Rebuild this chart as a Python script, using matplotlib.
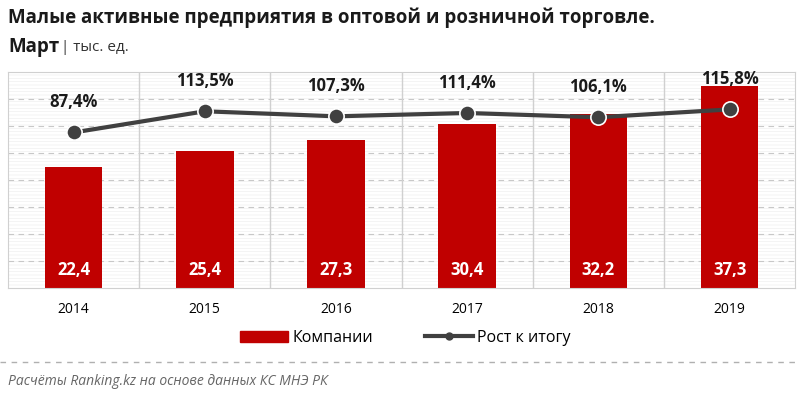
import matplotlib.pyplot as plt
from matplotlib.patches import Rectangle
from matplotlib.lines import Line2D

plt.rcParams['font.family'] = ['Open Sans', 'DejaVu Sans']
plt.rcParams['hatch.linewidth'] = 0.4
plt.rcParams['hatch.color'] = '#ececec'

years = ['2014', '2015', '2016', '2017', '2018', '2019']
companies = [22.4, 25.4, 27.3, 30.4, 32.2, 37.3]
growth = [87.4, 113.5, 107.3, 111.4, 106.1, 115.8]

red = '#c00000'
dark = '#404040'

fig = plt.figure(figsize=(8, 3.95), dpi=100)
ax = fig.add_axes([0.01, 0.271, 0.984, 0.547])
x = list(range(len(years)))

ax.set_xlim(-0.5, len(years) - 0.5)
ax.set_ylim(0, 40)

# striped background
ax.add_patch(Rectangle((-0.5, 0), len(years), 40, facecolor='white', edgecolor='#ececec',
                       hatch='-----', linewidth=0, zorder=0))

for yv in range(5, 40, 5):
    ax.axhline(yv, color='#c8c8c8', linestyle=(0, (5, 4)), linewidth=0.8, zorder=1)
for xv in range(1, len(years)):
    ax.axvline(xv - 0.5, color='#d0d0d0', linewidth=1, zorder=1)

ax.bar(x, companies, width=0.44, color=red, zorder=2)
for xi, v in zip(x, companies):
    ax.text(xi, 3.3, f'{v:.1f}'.replace('.', ','), ha='center', va='center', color='white',
            fontsize=12, fontweight='bold', zorder=5)

for s in ax.spines.values():
    s.set_color('#d0d0d0')
ax.set_yticks([])
ax.set_xticks(x)
ax.set_xticklabels(years, fontsize=10)
ax.tick_params(axis='x', length=0, pad=10)

ax2 = ax.twinx()
ax2.set_ylim(-104, 162)
ax2.plot(x, growth, color=dark, linewidth=3, marker='o', markersize=11,
         markerfacecolor=dark, markeredgecolor='white', markeredgewidth=1.2, zorder=4)
for xi, v in zip(x, growth):
    ax2.text(xi, v + 37, f'{v:.1f}%'.replace('.', ','), ha='center', va='center',
             fontsize=12, color='#1a1a1a', fontweight='bold')
ax2.set_yticks([])
for s in ax2.spines.values():
    s.set_visible(False)

fig.text(0.01, 0.955, 'Малые активные предприятия в оптовой и розничной торговле.',
         fontsize=13.5, fontweight='bold', va='center', color='#1a1a1a')
fig.text(0.01, 0.88, 'Март', fontsize=13.5, fontweight='bold', va='center', color='#1a1a1a')
fig.text(0.076, 0.88, '| тыс. ед.', fontsize=11, va='center', color='#333333')

handles = [Rectangle((0, 0), 1, 1, color=red),
           Line2D([0], [0], color=dark, linewidth=3, marker='o', markersize=5,
                  markerfacecolor=dark)]
fig.legend(handles, ['Компании', 'Рост к итогу'], loc='center', bbox_to_anchor=(0.507, 0.145),
           ncol=2, frameon=False, fontsize=11.5, handlelength=3, columnspacing=3.2, handletextpad=0.3)

fig.add_artist(Line2D([0.0, 1.0], [0.083, 0.083], color='#b0b0b0', linestyle=(0, (4, 4)),
                      linewidth=1, transform=fig.transFigure))
fig.text(0.01, 0.033, 'Расчёты Ranking.kz на основе данных КС МНЭ РК', fontsize=10,
         style='italic', color='#666666', va='center')

fig.savefig('out.png', dpi=100)
